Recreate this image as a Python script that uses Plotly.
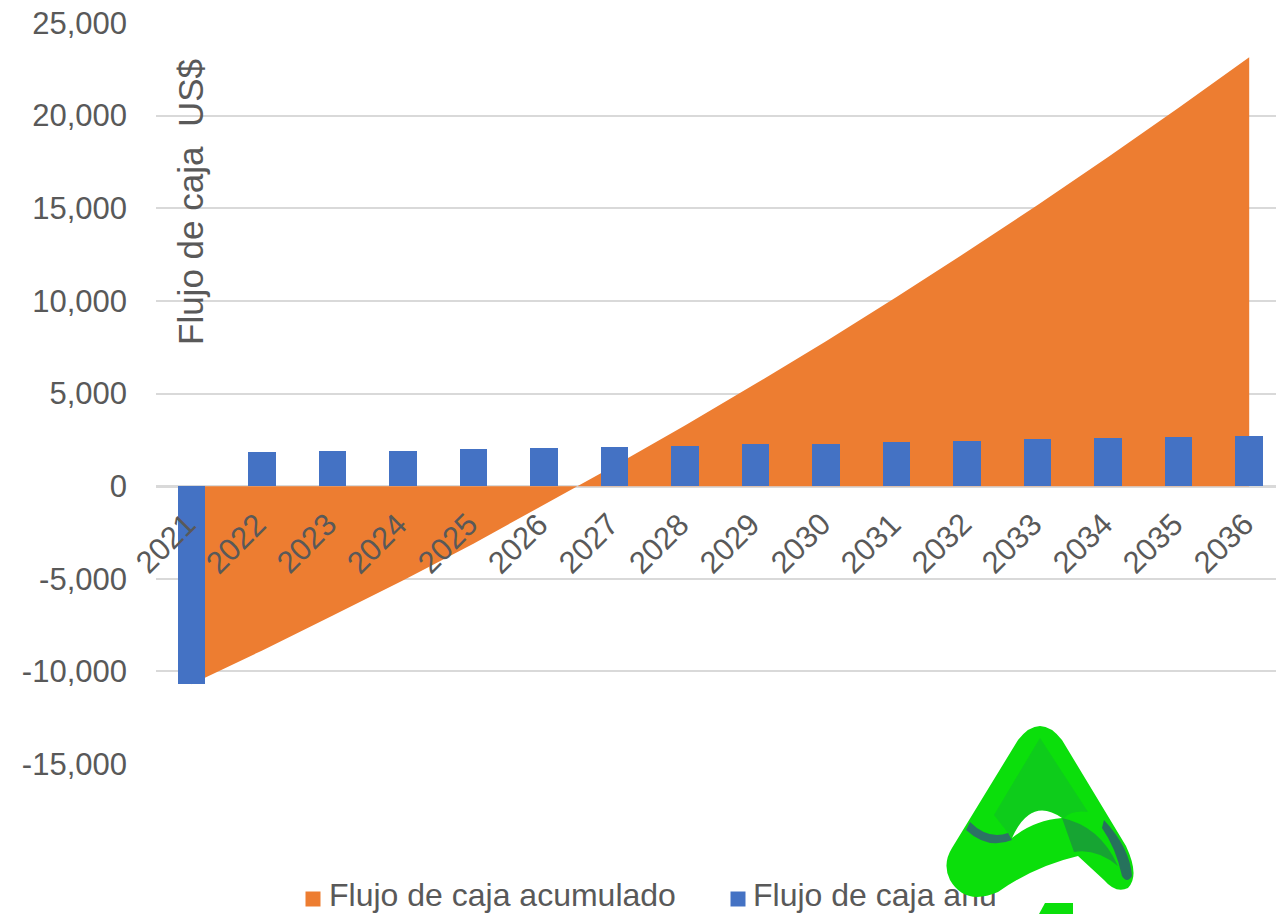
import plotly.graph_objects as go

# ---- data -------------------------------------------------------------
years = ["2021", "2022", "2023", "2024", "2025", "2026", "2027", "2028",
         "2029", "2030", "2031", "2032", "2033", "2034", "2035", "2036"]
flujo_anual = [-10700, 1820, 1880, 1910, 1980, 2050, 2100, 2170,
               2250, 2300, 2390, 2450, 2520, 2590, 2660, 2720]
flujo_acumulado = [-10700, -8880, -7000, -5090, -3110, -1000, 1100, 3270,
                   5520, 7820, 10210, 12660, 15180, 17770, 20430, 23150]
serie_nombres = ["Flujo de caja acumulado", "Flujo de caja anual"]
y_ticks = [-15000, -10000, -5000, 0, 5000, 10000, 15000, 20000, 25000]
y_tick_text = ["-15,000", "-10,000", "-5,000", "0", "5,000",
               "10,000", "15,000", "20,000", "25,000"]
titulo_y = "Flujo de caja  US$"

# ---- styling ----------------------------------------------------------
W, H = 1276, 914
TOP = 23
NARANJA = "#ED7D31"
AZUL = "#4472C4"
GRIS_TXT = "#595959"
GRIS_GRID = "#D9D9D9"
FONT = "Liberation Sans, Arial, sans-serif"
VERDE = "#0BDF0B"

PLOT_LEFT, PLOT_BOTTOM = 156, 764
PAPER_H = H - TOP


def px(xp):
    return xp / W


def py(yp):
    return (H - yp) / PAPER_H


main_ydom = [py(PLOT_BOTTOM), 1.0]
main_xdom = [px(PLOT_LEFT), 1.0]
x_range = [-0.5, 15.38]
y_range = [-15000, 25000]
idx = list(range(len(years)))

fig = go.Figure()

# cumulative cash flow as a filled area
fig.add_trace(go.Scatter(
    x=idx, y=flujo_acumulado, name=serie_nombres[0],
    mode="lines", line=dict(width=0, color=NARANJA),
    fill="tozeroy", fillcolor=NARANJA, showlegend=False,
    xaxis="x", yaxis="y",
))

# yearly cash flow bars, on an overlay so they sit above the area
fig.add_trace(go.Bar(
    x=idx, y=flujo_anual, name=serie_nombres[1],
    marker=dict(color=AZUL, line=dict(width=0)), width=0.39,
    showlegend=False, xaxis="x2", yaxis="y2",
))

# legend drawn in a small strip under the chart
LEG_DOM = [0, 0.1]
leg_h = (LEG_DOM[1] - LEG_DOM[0]) * PAPER_H
leg_sq_y = (H - 899) / leg_h
leg_tx_y = (H - 898) / leg_h
fig.add_trace(go.Scatter(
    x=[313, 738], y=[leg_sq_y, leg_sq_y], mode="markers",
    marker=dict(symbol="square", size=15, color=[NARANJA, AZUL]),
    showlegend=False, hoverinfo="skip", xaxis="x3", yaxis="y3",
    cliponaxis=False,
))
fig.add_trace(go.Scatter(
    x=[329, 753], y=[leg_tx_y, leg_tx_y], mode="text", text=serie_nombres,
    textposition="middle right",
    textfont=dict(size=32, color=GRIS_TXT, family=FONT),
    showlegend=False, hoverinfo="skip", xaxis="x3", yaxis="y3",
    cliponaxis=False,
))

# rotated category labels sitting under the zero line
annotations = []
for i, yr in zip(idx, years):
    annotations.append(dict(
        x=i, y=0, xref="x", yref="y", text=yr, showarrow=False,
        textangle=-45, xanchor="center", yanchor="middle",
        xshift=-26, yshift=-57,
        font=dict(size=31, color=GRIS_TXT, family=FONT),
    ))

# axis title placed inside the plot area
annotations.append(dict(
    x=px(191), y=py(202), xref="paper", yref="paper", text=titulo_y,
    showarrow=False, textangle=-90, xanchor="center", yanchor="middle",
    font=dict(size=35, color=GRIS_TXT, family=FONT),
))


# ---- logo in the lower right corner ------------------------------------
def path(cmds):
    out = []
    for c in cmds:
        if isinstance(c, str):
            out.append(c)
        else:
            out.append(f"{px(c[0]):.5f},{py(c[1]):.5f}")
    return " ".join(out)


logo_outer = path([
    "M", (1018, 740), "Q", (1040, 712), (1062, 740),
    "L", (1126, 846),
    "Q", (1140, 876), (1128, 888),
    "Q", (1116, 894), (1104, 880),
    "L", (1078, 856),
    "Q", (1035, 866), (998, 892),
    "Q", (965, 906), (950, 880),
    "Q", (942, 864), (952, 848),
    "Z",
])
logo_upper = path([
    "M", (1040, 738), "L", (1088, 812), "Q", (1072, 810), (1064, 818),
    "Q", (1030, 796), (1012, 838), "L", (994, 815), "Z",
])
logo_hole = path([
    "M", (1012, 838), "Q", (1031, 796), (1062, 818),
    "Q", (1034, 820), (1012, 838), "Z",
])
logo_shade_left = path([
    "M", (966, 830), "Q", (988, 850), (1012, 840),
    "L", (1008, 833), "Q", (988, 840), (970, 822), "Z",
])
logo_shade_mid = path([
    "M", (1062, 818), "Q", (1100, 826), (1118, 866),
    "Q", (1096, 848), (1074, 852), "Z",
])
logo_shade_right = path([
    "M", (1104, 820), "Q", (1130, 848), (1132, 876),
    "Q", (1127, 884), (1122, 876), "Q", (1116, 848), (1102, 828), "Z",
])
logo_base = path([
    "M", (1039, 914), "L", (1045, 903), "L", (1073, 903), "L", (1073, 914), "Z",
])

shapes = [
    dict(type="rect", xref="paper", yref="paper",
         x0=px(995), x1=px(1045), y0=py(912), y1=py(878),
         fillcolor="white", line=dict(width=0), layer="above"),
    dict(type="path", path=logo_outer, xref="paper", yref="paper",
         fillcolor=VERDE, line=dict(width=0), layer="above"),
    dict(type="path", path=logo_upper, xref="paper", yref="paper",
         fillcolor="#14A83A", opacity=0.35, line=dict(width=0), layer="above"),
    dict(type="path", path=logo_shade_mid, xref="paper", yref="paper",
         fillcolor="#1C8A45", opacity=0.7, line=dict(width=0), layer="above"),
    dict(type="path", path=logo_shade_right, xref="paper", yref="paper",
         fillcolor="#2D5670", opacity=0.8, line=dict(width=0), layer="above"),
    dict(type="path", path=logo_shade_left, xref="paper", yref="paper",
         fillcolor="#34587A", opacity=0.8, line=dict(width=0), layer="above"),
    dict(type="path", path=logo_hole, xref="paper", yref="paper",
         fillcolor="white", line=dict(width=0), layer="above"),
    dict(type="path", path=logo_base, xref="paper", yref="paper",
         fillcolor=VERDE, line=dict(width=0), layer="above"),
]

hidden = dict(visible=False, automargin=False)

fig.update_layout(
    width=W, height=H, autosize=False,
    margin=dict(l=0, r=0, t=TOP, b=0, pad=0, autoexpand=False),
    paper_bgcolor="white", plot_bgcolor="white",
    font=dict(family=FONT, color=GRIS_TXT, size=30),
    showlegend=False,
    bargap=0,
    xaxis=dict(
        domain=main_xdom, range=x_range, anchor="y", automargin=False,
        showticklabels=False, showgrid=False, zeroline=False,
        showline=False, ticks="",
    ),
    yaxis=dict(
        domain=main_ydom, range=y_range, anchor="x", automargin=False,
        tickvals=y_ticks, ticktext=y_tick_text,
        tickfont=dict(size=31, color=GRIS_TXT, family=FONT),
        ticklabelstandoff=28,
        showgrid=True, gridcolor=GRIS_GRID, gridwidth=1.5,
        zeroline=True, zerolinecolor=GRIS_GRID, zerolinewidth=2.5,
        showline=False, ticks="",
    ),
    xaxis2=dict(overlaying="x", range=x_range, anchor="y2", **hidden),
    yaxis2=dict(overlaying="y", range=y_range, anchor="x2", **hidden),
    xaxis3=dict(domain=[0, 1], range=[0, W], anchor="y3", **hidden),
    yaxis3=dict(domain=LEG_DOM, range=[0, 1], anchor="x3", **hidden),
    annotations=annotations,
    shapes=shapes,
)

fig.write_html("out.html")
